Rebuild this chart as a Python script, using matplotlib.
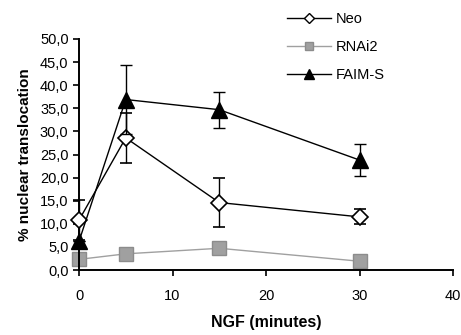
import numpy as np
import matplotlib.pyplot as plt
from matplotlib.ticker import FuncFormatter
from matplotlib.lines import Line2D

plt.rcParams['font.family'] = ['Liberation Sans', 'DejaVu Sans']

minutes = [0, 5, 15, 30]
neo = [10.8, 28.6, 14.6, 11.5]
neo_err = [4.3, 5.4, 5.3, 1.6]
rnai2 = [2.3, 3.5, 4.7, 1.9]
faim_s = [6.2, 36.9, 34.7, 23.8]
faim_s_err = [0.0, 7.4, 3.9, 3.5]

fig = plt.figure(figsize=(4.61, 3.35), dpi=100)
ax = fig.add_axes([79/461, 1-270/335, (453-79)/461, (270-39)/335])

ax.errorbar(minutes, neo, yerr=neo_err, color='black', lw=1, marker='D',
            ms=8, mfc='white', mec='black', mew=1.2, capsize=4.5,
            elinewidth=1, capthick=1, zorder=3)
ax.plot(minutes, rnai2, color='#a0a0a0', lw=1, marker='s', ms=10,
        mfc='#a0a0a0', mec='#8c8c8c', mew=1, zorder=2)
ax.errorbar(minutes, faim_s, yerr=faim_s_err, color='black', lw=1, marker='^',
            ms=11, mfc='black', mec='black', capsize=4.5,
            elinewidth=1, capthick=1, zorder=4)

ax.set_xlim(0, 40)
ax.set_ylim(0, 50)
ax.set_xticks([0, 10, 20, 30, 40])
ax.set_yticks(np.arange(0, 51, 5))
ax.yaxis.set_major_formatter(FuncFormatter(lambda v, p: f"{v:.1f}".replace('.', ',')))
for s in ['top', 'right']:
    ax.spines[s].set_visible(False)
for s in ['left', 'bottom']:
    ax.spines[s].set_linewidth(1.4)
ax.tick_params(width=1.4, length=4, labelsize=10.5, color='#222222')
ax.tick_params(axis='x', pad=10)
for artist in ax.get_children():
    artist.set_clip_on(False)

ax.set_xlabel('NGF (minutes)', fontsize=11.5, fontweight='bold', labelpad=8)
ax.set_ylabel('% nuclear translocation', fontsize=11, fontweight='bold', labelpad=6)

handles = [
    Line2D([], [], color='black', lw=1, marker='D', ms=5, mfc='white', mec='black'),
    Line2D([], [], color='#a0a0a0', lw=1, marker='s', ms=6, mfc='#a0a0a0', mec='#8c8c8c'),
    Line2D([], [], color='black', lw=1, marker='^', ms=7, mfc='black', mec='black'),
]
fig.legend(handles, ['Neo', 'RNAi2', 'FAIM-S'], loc='upper left',
           bbox_to_anchor=(280/461, 1-5/335), frameon=False, fontsize=10.5,
           handlelength=3, labelspacing=0.95, borderpad=0, handletextpad=0.3)

fig.savefig('out.png', dpi=100)
